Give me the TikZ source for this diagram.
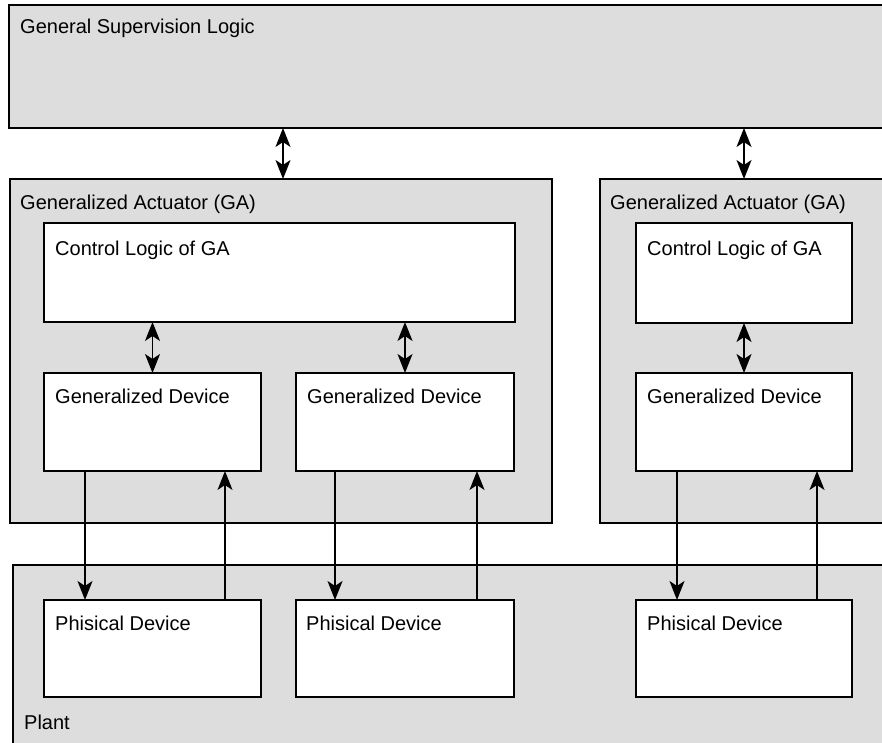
\documentclass[tikz,border=0pt]{standalone}
\usepackage{fontspec}
\setmainfont{Liberation Sans}
\usetikzlibrary{arrows.meta}
\definecolor{panel}{HTML}{DDDDDD}
\tikzset{
  box/.style={draw=black, line width=1.5pt, fill=white, anchor=north west, inner sep=0pt, outer sep=0pt},
  pane/.style={box, fill=panel},
  lbl/.style={anchor=base west, inner sep=0pt, font=\fontsize{20}{24}\selectfont},
  tip/.tip={Stealth[length=19pt,width=15pt,inset=5pt]},
  link/.style={line width=1.5pt, -tip},
  dlink/.style={line width=1.5pt, tip-tip},
}
\begin{document}
\begin{tikzpicture}[x=1pt,y=-1pt]
\clip (0,0) rectangle (882,743);
\fill[white] (0,0) rectangle (882,743);

% supervision layer
\node[pane, minimum width=900pt, minimum height=123pt] (sup) at (9,5) {};
\node[lbl] (tsup) at (20,34) {General Supervision Logic};

% left generalized actuator
\node[pane, minimum width=542pt, minimum height=344pt] (ga1) at (10,179) {};
\node[lbl] (tga1) at (20,210) {Generalized Actuator (GA)};
\node[box, minimum width=471pt, minimum height=99pt] (cl1) at (44,223) {};
\node[lbl] (tcl1) at (55,255) {Control Logic of GA};
\node[box, minimum width=217pt, minimum height=98pt] (gd1) at (44,373) {};
\node[lbl] (tgd1) at (55,403) {Generalized Device};
\node[box, minimum width=218pt, minimum height=98pt] (gd2) at (296,373) {};
\node[lbl] (tgd2) at (307,403) {Generalized Device};

% right generalized actuator
\node[pane, minimum width=320pt, minimum height=344pt] (ga2) at (600,179) {};
\node[lbl] (tga2) at (610,210) {Generalized Actuator (GA)};
\node[box, minimum width=216pt, minimum height=100pt] (cl2) at (636,223) {};
\node[lbl] (tcl2) at (647,255) {Control Logic of GA};
\node[box, minimum width=216pt, minimum height=98pt] (gd3) at (636,373) {};
\node[lbl] (tgd3) at (647,403) {Generalized Device};

% plant
\node[pane, minimum width=900pt, minimum height=200pt] (plant) at (13,565) {};
\node[lbl] (tplant) at (24,729) {Plant};
\node[box, minimum width=217pt, minimum height=97pt] (pd1) at (44,600) {};
\node[lbl] (tpd1) at (55,630) {Phisical Device};
\node[box, minimum width=218pt, minimum height=97pt] (pd2) at (296,600) {};
\node[lbl] (tpd2) at (306,630) {Phisical Device};
\node[box, minimum width=216pt, minimum height=97pt] (pd3) at (636,600) {};
\node[lbl] (tpd3) at (647,630) {Phisical Device};

% supervision <-> actuators
\draw[dlink] ([xshift=2pt]sup.south -| ga1.north) -- ([xshift=2pt]ga1.north);
\draw[dlink] (sup.south -| cl2.north) -- (ga2.north -| cl2.north);

% control logic <-> devices
\draw[dlink] (cl1.south -| gd1.north) -- (gd1.north);
\draw[dlink] (cl1.south -| gd2.north) -- (gd2.north);
\draw[dlink] (cl2.south) -- (gd3.north);

% commands down to physical devices, feedback up
\draw[link] ([xshift=41pt]gd1.south west) -- ([xshift=41pt]pd1.north west);
\draw[link] ([xshift=-36pt]pd1.north east) -- ([xshift=-36pt]gd1.south east);
\draw[link] ([xshift=39pt]gd2.south west) -- ([xshift=39pt]pd2.north west);
\draw[link] ([xshift=-37pt]pd2.north east) -- ([xshift=-37pt]gd2.south east);
\draw[link] ([xshift=41pt]gd3.south west) -- ([xshift=41pt]pd3.north west);
\draw[link] ([xshift=-35pt]pd3.north east) -- ([xshift=-35pt]gd3.south east);
\end{tikzpicture}
\end{document}
